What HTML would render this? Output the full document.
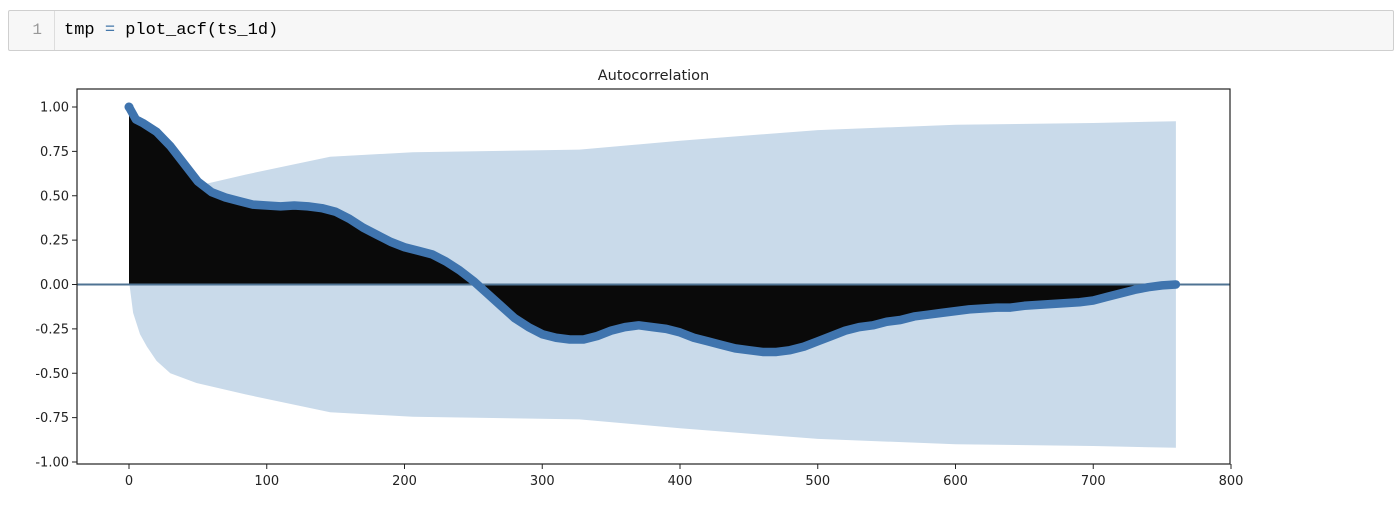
<!DOCTYPE html>
<html><head><meta charset="utf-8"><style>
body{margin:0;width:1400px;height:506px;background:#fff;overflow:hidden;font-family:"DejaVu Sans","Liberation Sans",sans-serif}
#cell{position:absolute;left:8px;top:10px;width:1384px;height:39px;background:#f7f7f7;border:1px solid #cfcfcf;border-radius:2px}
#gut{position:absolute;left:0;top:0;width:46px;height:39px;border-right:1px solid #ddd;color:#999;font-family:"Liberation Mono",monospace;font-size:16px;line-height:39px;text-align:right;box-sizing:border-box;padding-right:12px}
#code{position:absolute;left:55px;top:0;font-family:"Liberation Mono",monospace;font-size:17px;line-height:39px;color:#000}
</style></head><body>
<div id="cell"><div id="gut">1</div><div id="code">tmp <span style="color:#4477aa">=</span> plot_acf(ts_1d)</div></div>
<svg id="chart" width="1400" height="506" style="position:absolute;left:0;top:0"></svg>
<script>
const lags=[0,5,10,20,30,40,50,60,70,80,90,100,110,120,130,140,150,160,170,180,190,200,210,220,230,240,250,260,270,280,290,300,310,320,330,340,350,360,370,380,390,400,410,420,430,440,450,460,470,480,490,500,510,520,530,540,550,560,570,580,590,600,610,620,630,640,650,660,670,680,690,700,710,720,730,740,750,760];
const acf=[1.00,0.93,0.91,0.86,0.78,0.68,0.58,0.52,0.49,0.47,0.45,0.445,0.44,0.445,0.44,0.43,0.41,0.37,0.32,0.28,0.24,0.21,0.19,0.17,0.13,0.08,0.02,-0.05,-0.12,-0.19,-0.24,-0.28,-0.30,-0.31,-0.31,-0.29,-0.26,-0.24,-0.23,-0.24,-0.25,-0.27,-0.30,-0.32,-0.34,-0.36,-0.37,-0.38,-0.38,-0.37,-0.35,-0.32,-0.29,-0.26,-0.24,-0.23,-0.21,-0.20,-0.18,-0.17,-0.16,-0.15,-0.14,-0.135,-0.13,-0.13,-0.12,-0.115,-0.11,-0.105,-0.10,-0.09,-0.07,-0.05,-0.03,-0.015,-0.005,0.0];
const bandLags=[0.5,3,8,13,20,30,49,85,146,206,327,400,500,600,700,760];
const bandHalf=[0.01,0.16,0.28,0.35,0.43,0.50,0.555,0.62,0.72,0.745,0.76,0.81,0.87,0.90,0.91,0.92];
const xTicks=[0,100,200,300,400,500,600,700,800];
const yTicks=[1.00,0.75,0.50,0.25,0.00,-0.25,-0.50,-0.75,-1.00];
const NS='http://www.w3.org/2000/svg',svg=document.getElementById('chart');
const L=77,R=1230,T=89,B=464;
const X=v=>129+v*1.3775, Y=v=>284.5-v*177.5;
function mk(t,a,p){const e=document.createElementNS(NS,t);for(const k in a)e.setAttribute(k,a[k]);(p||svg).appendChild(e);return e;}
let d='M'+X(bandLags[0])+','+Y(bandHalf[0]);
bandLags.forEach((l,i)=>d+=' L'+X(l)+','+Y(bandHalf[i]));
for(let i=bandLags.length-1;i>=0;i--)d+=' L'+X(bandLags[i])+','+Y(-bandHalf[i]);
const band=mk('path',{d:d+'Z',fill:'#c9daea'});


let a='M'+X(0)+','+Y(0);
lags.forEach((l,i)=>a+=' L'+X(l)+','+Y(acf[i]));
a+=' L'+X(lags[lags.length-1])+','+Y(0)+'Z';
const st=mk('path',{d:a,fill:'#0a0a0a'});


const z=mk('line',{x1:L,x2:R,y1:Y(0),y2:Y(0),stroke:'#4f7393','stroke-width':2});


let m='';lags.forEach((l,i)=>m+=(i?' L':'M')+X(l)+','+Y(acf[i]));
const ml=mk('path',{d:m,fill:'none',stroke:'#3f74ae','stroke-width':8.5,'stroke-linejoin':'round','stroke-linecap':'round'});


const c0=mk('circle',{cx:X(lags[0]),cy:Y(acf[0]),r:4.5,fill:'#3f74ae'});


const fr=mk('rect',{x:L,y:T,width:R-L,height:B-T,fill:'none',stroke:'#222','stroke-width':1.2});


xTicks.forEach(t=>{
  mk('line',{x1:X(t),x2:X(t),y1:B,y2:B+5,stroke:'#222'});
  const tx=mk('text',{x:X(t),y:B+21,'text-anchor':'middle','font-size':13,fill:'#222'});
  tx.textContent=t;
  
  
});
yTicks.forEach(t=>{
  mk('line',{x1:L-5,x2:L,y1:Y(t),y2:Y(t),stroke:'#222'});
  const tx=mk('text',{x:L-8,y:Y(t)+4.5,'text-anchor':'end','font-size':13,fill:'#222'});
  tx.textContent=t.toFixed(2);
  
  
});
const ti=mk('text',{x:(L+R)/2,y:80,'text-anchor':'middle','font-size':14.5,fill:'#222'});
ti.textContent='Autocorrelation';


</script>
</body></html>
